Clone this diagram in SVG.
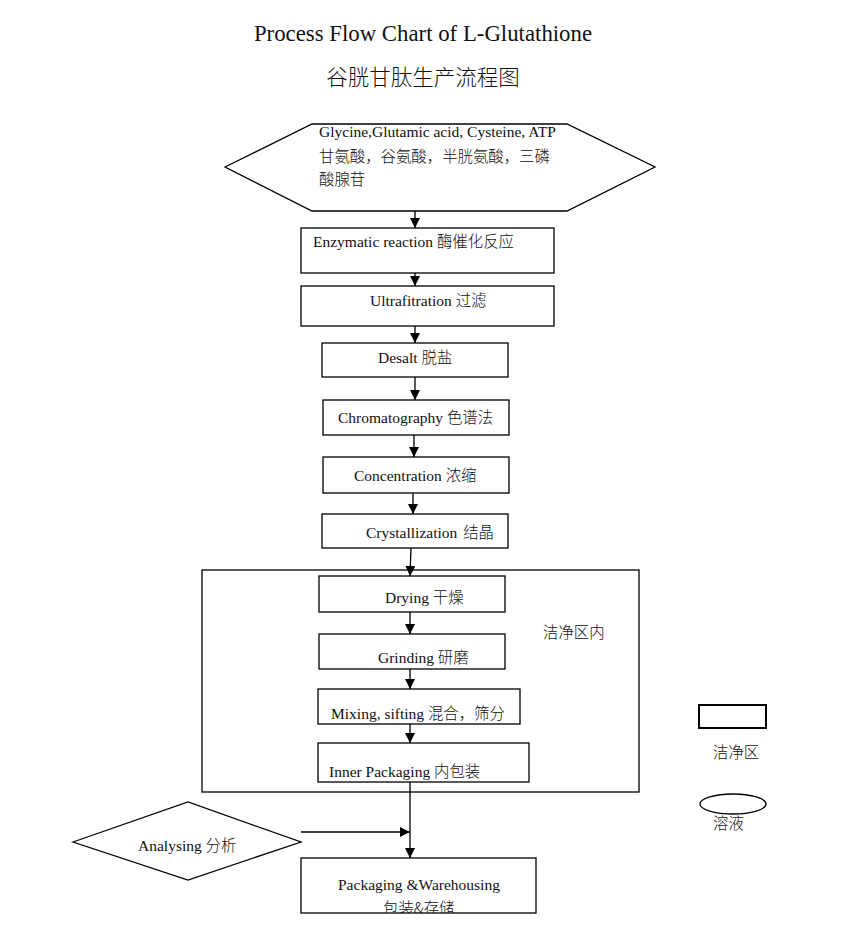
<svg xmlns="http://www.w3.org/2000/svg" width="867" height="938" viewBox="0 0 867 938">
<style>
.t{font-family:"Liberation Serif","Noto Sans CJK SC",serif;font-size:15.5px;fill:#111}
.cn{font-family:"Noto Sans CJK SC","Liberation Serif",serif;font-size:15.4px;font-weight:300}
.b{fill:#fff;stroke:#000;stroke-width:1.3}
.c{fill:none;stroke:#000;stroke-width:1.3}
</style>
<defs>
<marker id="ah" viewBox="0 0 10 10" refX="10" refY="5" markerWidth="10" markerHeight="10" markerUnits="userSpaceOnUse" orient="auto">
<path d="M0,0 L10,5 L0,10 Z" fill="#000"/>
</marker>
<clipPath id="clipPk"><rect x="301" y="858" width="235" height="55"/></clipPath>
</defs>
<rect width="867" height="938" fill="#fff"/>

<g id="title">
<text class="t" x="423" y="41" text-anchor="middle" style="font-size:22.8px">Process Flow Chart of L-Glutathione</text>
<text class="t cn" x="423" y="85" text-anchor="middle" style="font-size:21.5px">谷胱甘肽生产流程图</text>
</g>

<g id="clean-area">
<rect x="202" y="570" width="437" height="222" class="c"/>
<text class="t cn" x="543" y="638">洁净区内</text>
</g>

<g id="connectors">
<line x1="415" y1="195" x2="415" y2="228" class="c" marker-end="url(#ah)"/>
<line x1="415" y1="273" x2="415" y2="286" class="c" marker-end="url(#ah)"/>
<line x1="415" y1="326" x2="415" y2="343" class="c" marker-end="url(#ah)"/>
<line x1="415" y1="377" x2="415" y2="400" class="c" marker-end="url(#ah)"/>
<line x1="414" y1="435" x2="414" y2="457" class="c" marker-end="url(#ah)"/>
<line x1="413" y1="493" x2="413" y2="514" class="c" marker-end="url(#ah)"/>
<line x1="411" y1="548" x2="410" y2="576" class="c" marker-end="url(#ah)"/>
<line x1="410" y1="612" x2="410" y2="634" class="c" marker-end="url(#ah)"/>
<line x1="410" y1="669" x2="410" y2="689" class="c" marker-end="url(#ah)"/>
<line x1="410" y1="724" x2="410" y2="743" class="c" marker-end="url(#ah)"/>
<line x1="410" y1="782" x2="410" y2="858" class="c" marker-end="url(#ah)"/>
<line x1="301" y1="832" x2="410" y2="832" class="c" marker-end="url(#ah)"/>
</g>

<g id="raw-materials">
<polygon points="225,167 312,124 567,124 655,167 567,211 312,211" class="b"/>
<text class="t" x="319" y="137">Glycine,Glutamic acid, Cysteine, ATP</text>
<text class="t cn" x="319" y="162">甘氨酸，谷氨酸，半胱氨酸，三磷</text>
<text class="t cn" x="319" y="185">酸腺苷</text>
</g>

<g id="enzymatic">
<rect x="301" y="228" width="253" height="45" class="b"/>
<text class="t" x="313" y="247">Enzymatic reaction <tspan class="cn">酶催化反应</tspan></text>
</g>

<g id="ultrafiltration">
<rect x="301" y="286" width="253" height="40" class="b"/>
<text class="t" x="370" y="306">Ultrafitration <tspan class="cn">过滤</tspan></text>
</g>

<g id="desalt">
<rect x="322" y="343" width="186" height="34" class="b"/>
<text class="t" x="378" y="363">Desalt <tspan class="cn">脱盐</tspan></text>
</g>

<g id="chromatography">
<rect x="323" y="400" width="186" height="35" class="b"/>
<text class="t" x="338" y="423">Chromatography <tspan class="cn">色谱法</tspan></text>
</g>

<g id="concentration">
<rect x="323" y="457" width="186" height="36" class="b"/>
<text class="t" x="354" y="481">Concentration <tspan class="cn">浓缩</tspan></text>
</g>

<g id="crystallization">
<rect x="322" y="514" width="186" height="34" class="b"/>
<text class="t" x="366" y="538">Crystallization <tspan class="cn" dx="2">结晶</tspan></text>
</g>

<g id="drying">
<rect x="319" y="576" width="186" height="36" class="b"/>
<text class="t" x="385" y="603">Drying <tspan class="cn">干燥</tspan></text>
</g>

<g id="grinding">
<rect x="319" y="634" width="186" height="35" class="b"/>
<text class="t" x="378" y="663">Grinding <tspan class="cn">研磨</tspan></text>
</g>

<g id="mixing">
<rect x="318" y="689" width="202" height="35" class="b"/>
<text class="t" x="331" y="719">Mixing, sifting <tspan class="cn">混合，筛分</tspan></text>
</g>

<g id="inner-packaging">
<rect x="318" y="743" width="211" height="39" class="b"/>
<text class="t" x="329" y="777">Inner Packaging <tspan class="cn">内包装</tspan></text>
</g>

<g id="analysing">
<polygon points="73,842 188,802 301,842 188,880" class="b"/>
<text class="t" x="138" y="851">Analysing <tspan class="cn">分析</tspan></text>
</g>

<g id="packaging">
<rect x="301" y="858" width="235" height="55" class="b"/>
<text class="t" x="338" y="890">Packaging &amp;Warehousing</text>
<text class="t cn" x="383" y="914" clip-path="url(#clipPk)">包装&amp;存储</text>
</g>

<g id="legend-clean">
<rect x="699" y="705" width="67" height="23" fill="#fff" stroke="#000" stroke-width="2"/>
<text class="t cn" x="713" y="758">洁净区</text>
</g>

<g id="legend-solution">
<ellipse cx="733" cy="804" rx="33" ry="10" fill="#fff" stroke="#000" stroke-width="1.3"/>
<text class="t cn" x="713" y="829">溶液</text>
</g>
</svg>
